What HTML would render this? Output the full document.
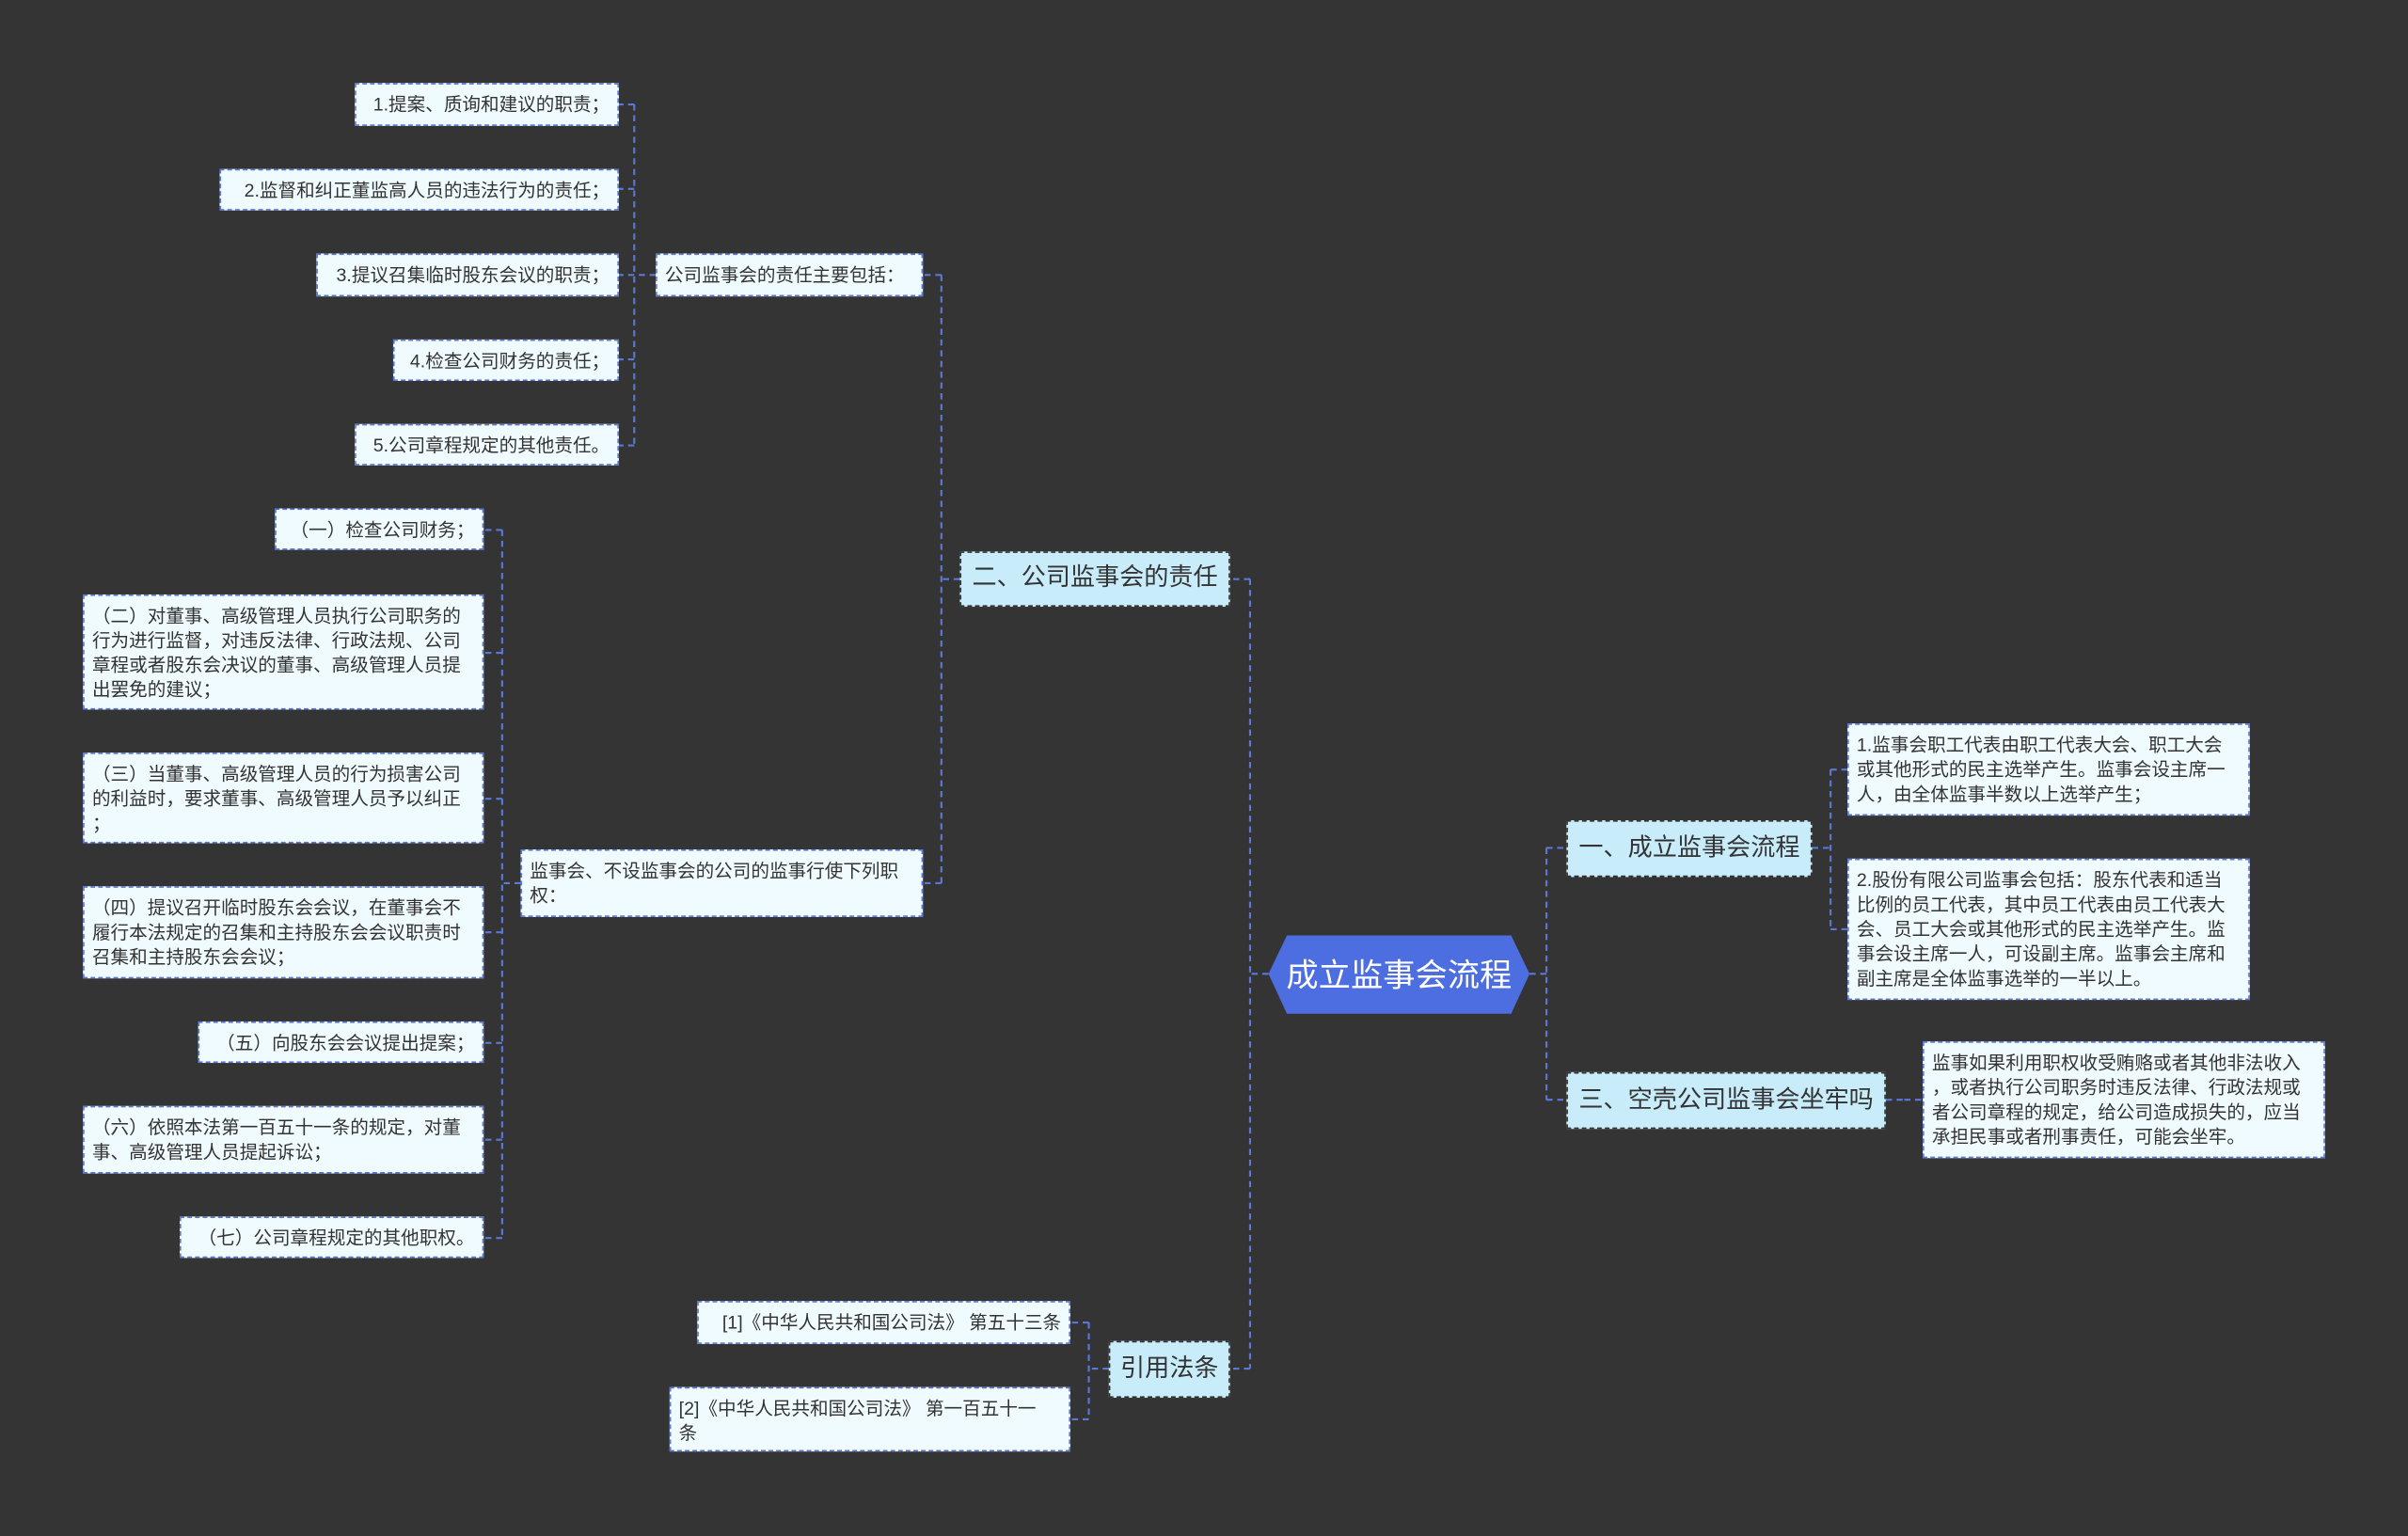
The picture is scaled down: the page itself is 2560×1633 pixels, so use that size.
<!DOCTYPE html>
<html><head><meta charset="utf-8"><style>
html,body{margin:0;padding:0;background:#353435;width:2560px;height:1633px;overflow:hidden}
#w{position:absolute;left:0;top:0;width:1568px;height:1000px;transform:scale(1.63265,1.633);transform-origin:0 0;font-family:"Liberation Sans","Noto Sans CJK SC",sans-serif}
.b{position:absolute;box-sizing:border-box;border:1px dashed #5b78d6;background:#f0fbff;color:#333;font-size:12px;line-height:16px;padding:5px 5px;white-space:nowrap;overflow:hidden}
.r{text-align:right}
.m{position:absolute;box-sizing:border-box;border:1px dashed #333;background:#c9ecfb;color:#333;font-size:16px;white-space:nowrap;text-align:center;padding:0}
svg{position:absolute;left:0;top:0}
</style></head><body><div id="w">
<svg width="1568" height="1000">
<g stroke="#5b78d6" stroke-width="1.3" stroke-dasharray="4,3" fill="none">
<path d="M996 634H1007M1007 552V716M1007 552H1020M1007 716H1020"/>
<path d="M1180 552H1192M1192 501V605M1192 501H1203M1192 605H1203"/>
<path d="M1228 716H1240M1240 716H1252"/>
<path d="M826 634H814M814 377V891M814 377H801M814 891H801"/>
<path d="M625 377H613M613 179V575M613 179H601M613 575H601"/>
<path d="M427 179H413M413 68V290M413 68H403M413 123H403M413 179H403M413 234H403M413 290H403"/>
<path d="M339 575H327M327 345V806M327 345H315M327 425H315M327 520H315M327 607H315M327 679H315M327 742H315M327 806H315"/>
<path d="M722 891H709M709 861V924M709 861H697M709 924H697"/>
</g>
<polygon points="838,609 984,609 996,634 984,660 838,660 826,634" fill="#4c6ee0"/>
<text x="911" y="642" fill="#fff" font-size="21" text-anchor="middle" font-family="Liberation Sans,Noto Sans CJK SC,sans-serif">成立监事会流程</text>
</svg>
<div class="m" style="left:1020px;top:534px;width:160px;height:37px;line-height:35px">一、成立监事会流程</div>
<div class="m" style="left:1020px;top:698px;width:208px;height:37px;line-height:35px">三、空壳公司监事会坐牢吗</div>
<div class="m" style="left:625px;top:359px;width:176px;height:36px;line-height:34px">二、公司监事会的责任</div>
<div class="m" style="left:722px;top:873px;width:79px;height:37px;line-height:35px">引用法条</div>

<div class="b" style="left:1203px;top:471px;width:262px;height:60px">1.监事会职工代表由职工代表大会、职工大会<br>或其他形式的民主选举产生。监事会设主席一<br>人，由全体监事半数以上选举产生；</div>
<div class="b" style="left:1203px;top:559px;width:262px;height:92px">2.股份有限公司监事会包括：股东代表和适当<br>比例的员工代表，其中员工代表由员工代表大<br>会、员工大会或其他形式的民主选举产生。监<br>事会设主席一人，可设副主席。监事会主席和<br>副主席是全体监事选举的一半以上。</div>
<div class="b" style="left:1252px;top:678px;width:262px;height:76px">监事如果利用职权收受贿赂或者其他非法收入<br>，或者执行公司职务时违反法律、行政法规或<br>者公司章程的规定，给公司造成损失的，应当<br>承担民事或者刑事责任，可能会坐牢。</div>

<div class="b" style="left:427px;top:165px;width:174px;height:28px">公司监事会的责任主要包括：</div>
<div class="b" style="left:339px;top:553px;width:262px;height:44px">监事会、不设监事会的公司的监事行使下列职<br>权：</div>

<div class="b r" style="left:231px;top:54px;width:172px;height:28px">1.提案、质询和建议的职责；</div>
<div class="b r" style="left:143px;top:110px;width:260px;height:27px">2.监督和纠正董监高人员的违法行为的责任；</div>
<div class="b r" style="left:206px;top:165px;width:197px;height:28px">3.提议召集临时股东会议的职责；</div>
<div class="b r" style="left:256px;top:221px;width:147px;height:27px">4.检查公司财务的责任；</div>
<div class="b r" style="left:231px;top:276px;width:172px;height:27px">5.公司章程规定的其他责任。</div>

<div class="b r" style="left:179px;top:331px;width:136px;height:27px">（一）检查公司财务；</div>
<div class="b" style="left:54px;top:387px;width:261px;height:75px">（二）对董事、高级管理人员执行公司职务的<br>行为进行监督，对违反法律、行政法规、公司<br>章程或者股东会决议的董事、高级管理人员提<br>出罢免的建议；</div>
<div class="b" style="left:54px;top:490px;width:261px;height:59px">（三）当董事、高级管理人员的行为损害公司<br>的利益时，要求董事、高级管理人员予以纠正<br>；</div>
<div class="b" style="left:54px;top:577px;width:261px;height:60px">（四）提议召开临时股东会会议，在董事会不<br>履行本法规定的召集和主持股东会会议职责时<br>召集和主持股东会会议；</div>
<div class="b r" style="left:129px;top:665px;width:186px;height:27px">（五）向股东会会议提出提案；</div>
<div class="b" style="left:54px;top:720px;width:261px;height:44px">（六）依照本法第一百五十一条的规定，对董<br>事、高级管理人员提起诉讼；</div>
<div class="b r" style="left:117px;top:792px;width:198px;height:27px">（七）公司章程规定的其他职权。</div>

<div class="b r" style="left:454px;top:847px;width:243px;height:28px">[1]《中华人民共和国公司法》 第五十三条</div>
<div class="b" style="left:436px;top:903px;width:261px;height:42px">[2]《中华人民共和国公司法》 第一百五十一<br>条</div>
</div></body></html>
